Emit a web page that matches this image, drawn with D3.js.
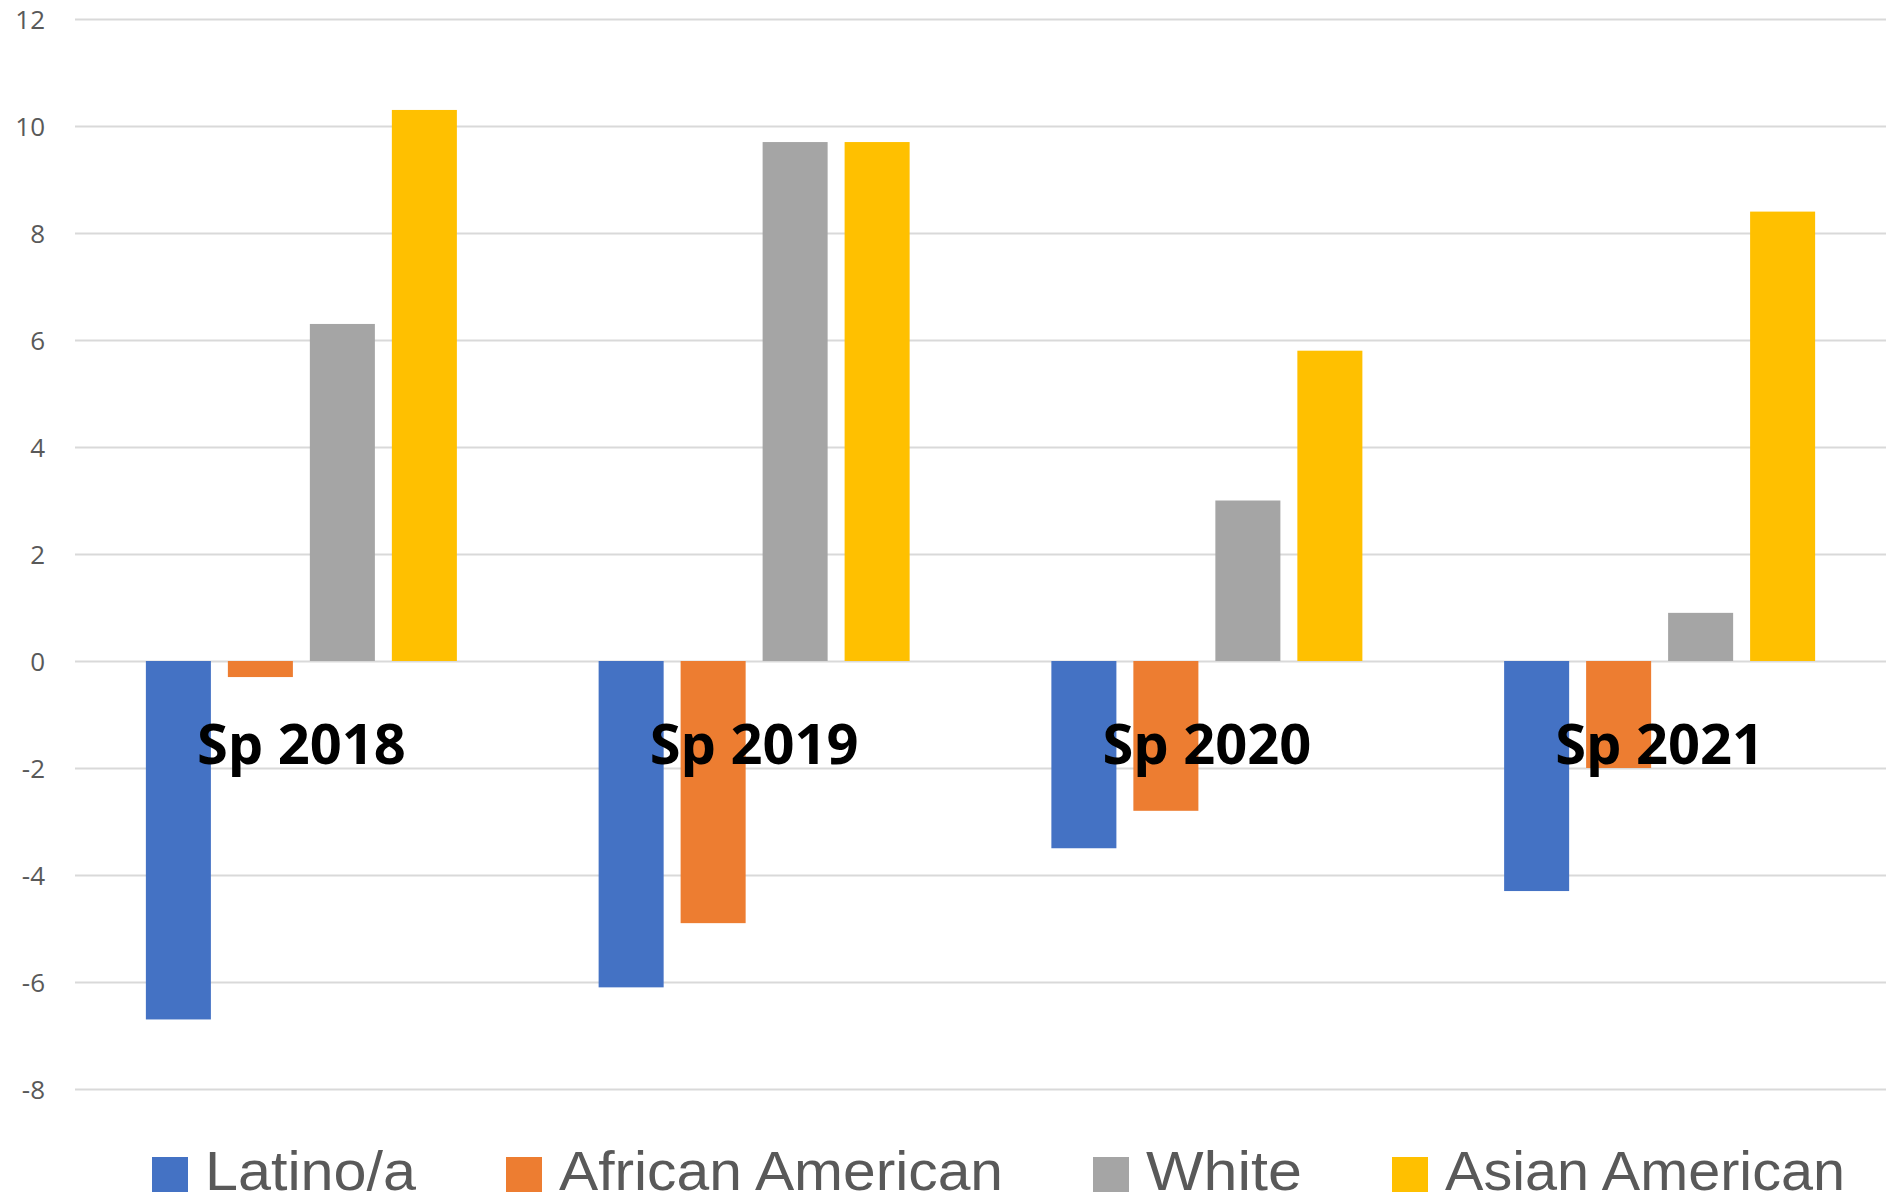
<!DOCTYPE html>
<html><head><meta charset="utf-8">
<script src="https://cdn.jsdelivr.net/npm/d3@7"></script>
<style>html,body{margin:0;padding:0;background:#fff;}svg{display:block;}</style>
</head><body>
<script>
const categories = ["Sp 2018", "Sp 2019", "Sp 2020", "Sp 2021"];
const seriesNames = ["Latino/a", "African American", "White", "Asian American"];
const latino = [-6.7, -6.1, -3.5, -4.3];
const africanAmerican = [-0.3, -4.9, -2.8, -2.0];
const white = [6.3, 9.7, 3.0, 0.9];
const asianAmerican = [10.3, 9.7, 5.8, 8.4];
const yTicks = [-8, -6, -4, -2, 0, 2, 4, 6, 8, 10, 12];
const colors = ["#4472C4", "#ED7D31", "#A5A5A5", "#FFC000"];

const seriesValues = [latino, africanAmerican, white, asianAmerican];
const W = 1896, H = 1202;
const m = {left: 75, right: 10, top: 19, bottom: 113};
const svg = d3.select("body").append("svg").attr("width", W).attr("height", H);

const y = d3.scaleLinear().domain([-8, 12]).range([H - m.bottom, m.top]);
const x0 = d3.scaleBand().domain(categories).range([m.left, W - m.right]).paddingInner(0).paddingOuter(0);
const groupInner = 311;
const x1 = d3.scaleBand().domain(seriesNames).range([0, groupInner]).paddingInner(0.207).paddingOuter(0);
const off = (x0.bandwidth() - groupInner) / 2;

// gridlines + tick labels
const yAxis = d3.axisLeft(y).tickValues(yTicks).tickSize(-(W - m.left - m.right)).tickPadding(30).tickFormat(d => String(d));
const ga = svg.append("g").attr("transform", `translate(${m.left},0)`).call(yAxis);
ga.select(".domain").remove();
ga.selectAll(".tick line").attr("stroke", "#D9D9D9").attr("stroke-width", 2);
ga.selectAll(".tick text").attr("fill", "#595959").attr("font-family", "'Open Sans', sans-serif").attr("font-size", 26).attr("dy", "0.35em");

// bars
const data = [];
categories.forEach((c, i) => seriesNames.forEach((s, j) => data.push({c, s, j, v: seriesValues[j][i]})));
svg.append("g").selectAll("rect").data(data).join("rect")
  .attr("x", d => x0(d.c) + off + x1(d.s))
  .attr("width", x1.bandwidth())
  .attr("y", d => y(Math.max(0, d.v)))
  .attr("height", d => Math.abs(y(d.v) - y(0)))
  .attr("fill", d => colors[d.j]);

// category labels
svg.append("g").selectAll("text").data(categories).join("text")
  .attr("x", d => x0(d) + x0.bandwidth() / 2)
  .attr("y", y(0) + 103)
  .attr("text-anchor", "middle")
  .attr("font-family", "'Open Sans', sans-serif")
  .attr("font-weight", "bold")
  .attr("font-size", 56)
  .attr("fill", "#000")
  .text(d => d);

// legend
const legendWidths = [211, 444, 156, 400];
const lg = svg.append("g");
const items = lg.selectAll("g").data(seriesNames).join("g");
items.append("rect").attr("width", 36).attr("height", 35).attr("y", 1157).attr("fill", (d, i) => colors[i]);
items.append("text").attr("x", 53).attr("y", 1190)
  .attr("font-family", "'Liberation Sans', Arial, sans-serif").attr("font-size", 55).attr("fill", "#595959")
  .attr("textLength", (d, i) => legendWidths[i]).attr("lengthAdjust", "spacingAndGlyphs")
  .text(d => d);
let xpos = 0;
const positions = [];
seriesNames.forEach((d, i) => { positions.push(xpos); xpos += 53 + legendWidths[i] + 90; });
const total = xpos - 90;
const start = 998.5 - total / 2;
items.attr("transform", (d, i) => `translate(${start + positions[i]},0)`);
</script>
</body></html>
